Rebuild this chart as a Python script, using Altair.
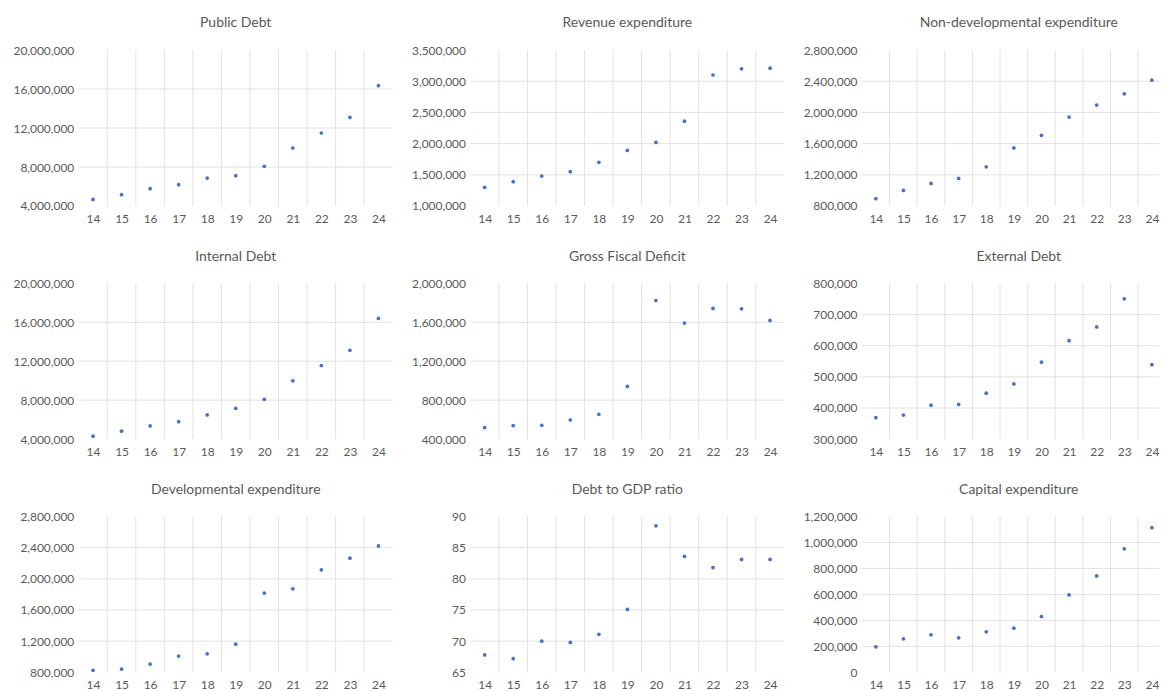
import altair as alt
import pandas as pd

years = [14, 15, 16, 17, 18, 19, 20, 21, 22, 23, 24]

titles = [
    "Public Debt", "Revenue expenditure", "Non-developmental expenditure",
    "Internal Debt", "Gross Fiscal Deficit", "External Debt",
    "Developmental expenditure", "Debt to GDP ratio", "Capital expenditure",
]

public_debt = [4680000, 5160000, 5780000, 6190000, 6870000, 7110000, 8070000, 9950000, 11490000, 13090000, 16340000]
revenue_exp = [1300000, 1390000, 1480000, 1550000, 1700000, 1890000, 2020000, 2360000, 3100000, 3200000, 3210000]
nondev_exp = [894000, 1000000, 1089000, 1153000, 1302000, 1545000, 1706000, 1940000, 2094000, 2238000, 2413000]
internal_debt = [4310000, 4820000, 5360000, 5800000, 6490000, 7170000, 8090000, 9990000, 11560000, 13120000, 16390000]
gross_fiscal_deficit = [519000, 540000, 543000, 597000, 655000, 941000, 1823000, 1591000, 1741000, 1738000, 1619000]
external_debt = [369000, 377500, 409000, 411500, 447600, 477000, 547000, 616000, 660000, 750000, 539000]
dev_exp = [826000, 843000, 906000, 1009000, 1038000, 1162000, 1817000, 1872000, 2115000, 2264000, 2421000]
debt_gdp = [67.8, 67.2, 70.0, 69.8, 71.1, 75.1, 88.5, 83.6, 81.8, 83.1, 83.1]
capital_exp = [197000, 258000, 289000, 266000, 312000, 340000, 430000, 596000, 742000, 951000, 1113000]

ticks_debt = [4000000, 8000000, 12000000, 16000000, 20000000]
ticks_rev = [1000000, 1500000, 2000000, 2500000, 3000000, 3500000]
ticks_exp = [800000, 1200000, 1600000, 2000000, 2400000, 2800000]
ticks_gfd = [400000, 800000, 1200000, 1600000, 2000000]
ticks_ext = [300000, 400000, 500000, 600000, 700000, 800000]
ticks_gdp = [65, 70, 75, 80, 85, 90]
ticks_cap = [0, 200000, 400000, 600000, 800000, 1000000, 1200000]

series = [public_debt, revenue_exp, nondev_exp,
          internal_debt, gross_fiscal_deficit, external_debt,
          dev_exp, debt_gdp, capital_exp]
tick_sets = [ticks_debt, ticks_rev, ticks_exp,
             ticks_debt, ticks_gfd, ticks_ext,
             ticks_exp, ticks_gdp, ticks_cap]

FONT = "Lato"
TXT = "#595959"
GRID = "#e2e2e2"
BLUE = "#4472C4"

PLOT_H = 156.5
col_width = [315, 315, 298.3]
col_band = [28.64, 28.64, 27.7]
col_ext = [70.3, 66.7, 66.7]
col_dx = [0, 0, 8.15]

boundaries = [y + 0.5 for y in years[:-1]]


def panel(title, vals, ticks, col):
    w = col_width[col]
    xmax = 13.5 + w / col_band[col]
    xs = alt.Scale(domain=[13.5, xmax], nice=False, zero=False)
    ys = alt.Scale(domain=[ticks[0], ticks[-1]], nice=False, zero=False)
    x_axis = alt.Axis(values=years, title=None, grid=False, ticks=False, tickSize=0,
                      domain=False, labelFlush=False, labelPadding=7.5, format="d",
                      labelFont=FONT, labelFontSize=12, labelColor=TXT,
                      minExtent=22, maxExtent=22)
    y_axis = alt.Axis(values=ticks, title=None, grid=False, ticks=False, tickSize=0,
                      domain=False, labelPadding=5, format=",d",
                      labelFont=FONT, labelFontSize=12, labelColor=TXT,
                      minExtent=col_ext[col], maxExtent=col_ext[col])
    df = pd.DataFrame({"year": years, "value": vals})
    vgrid = alt.Chart(pd.DataFrame({"year": boundaries})).mark_rule(
        color=GRID, strokeWidth=1).encode(x=alt.X("year:Q", scale=xs, axis=x_axis))
    hgrid = alt.Chart(pd.DataFrame({"value": ticks[1:-1]})).mark_rule(
        color=GRID, strokeWidth=1).encode(y=alt.Y("value:Q", scale=ys, axis=y_axis))
    pts = alt.Chart(df).mark_circle(size=14, color=BLUE, opacity=1).encode(
        x=alt.X("year:Q", scale=xs, axis=x_axis),
        y=alt.Y("value:Q", scale=ys, axis=y_axis),
    )
    return alt.layer(vgrid, hgrid, pts).properties(
        width=w, height=PLOT_H,
        title=alt.Title(title, font=FONT, fontSize=14, fontWeight="normal", color=TXT,
                        anchor="middle", frame="group", baseline="alphabetic",
                        offset=2.7, dx=col_dx[col]),
    )


cols = []
for c in range(3):
    charts = [panel(titles[r * 3 + c], series[r * 3 + c], tick_sets[r * 3 + c], c) for r in range(3)]
    cols.append(alt.vconcat(*charts, spacing=21.0))

chart = alt.hconcat(*cols, spacing=10).properties(
    padding={"left": 0, "top": 7.0, "right": 0, "bottom": 0},
    background="white",
).configure_view(stroke=None)

chart.save("out.html", embed_options={"renderer": "svg", "actions": False})
